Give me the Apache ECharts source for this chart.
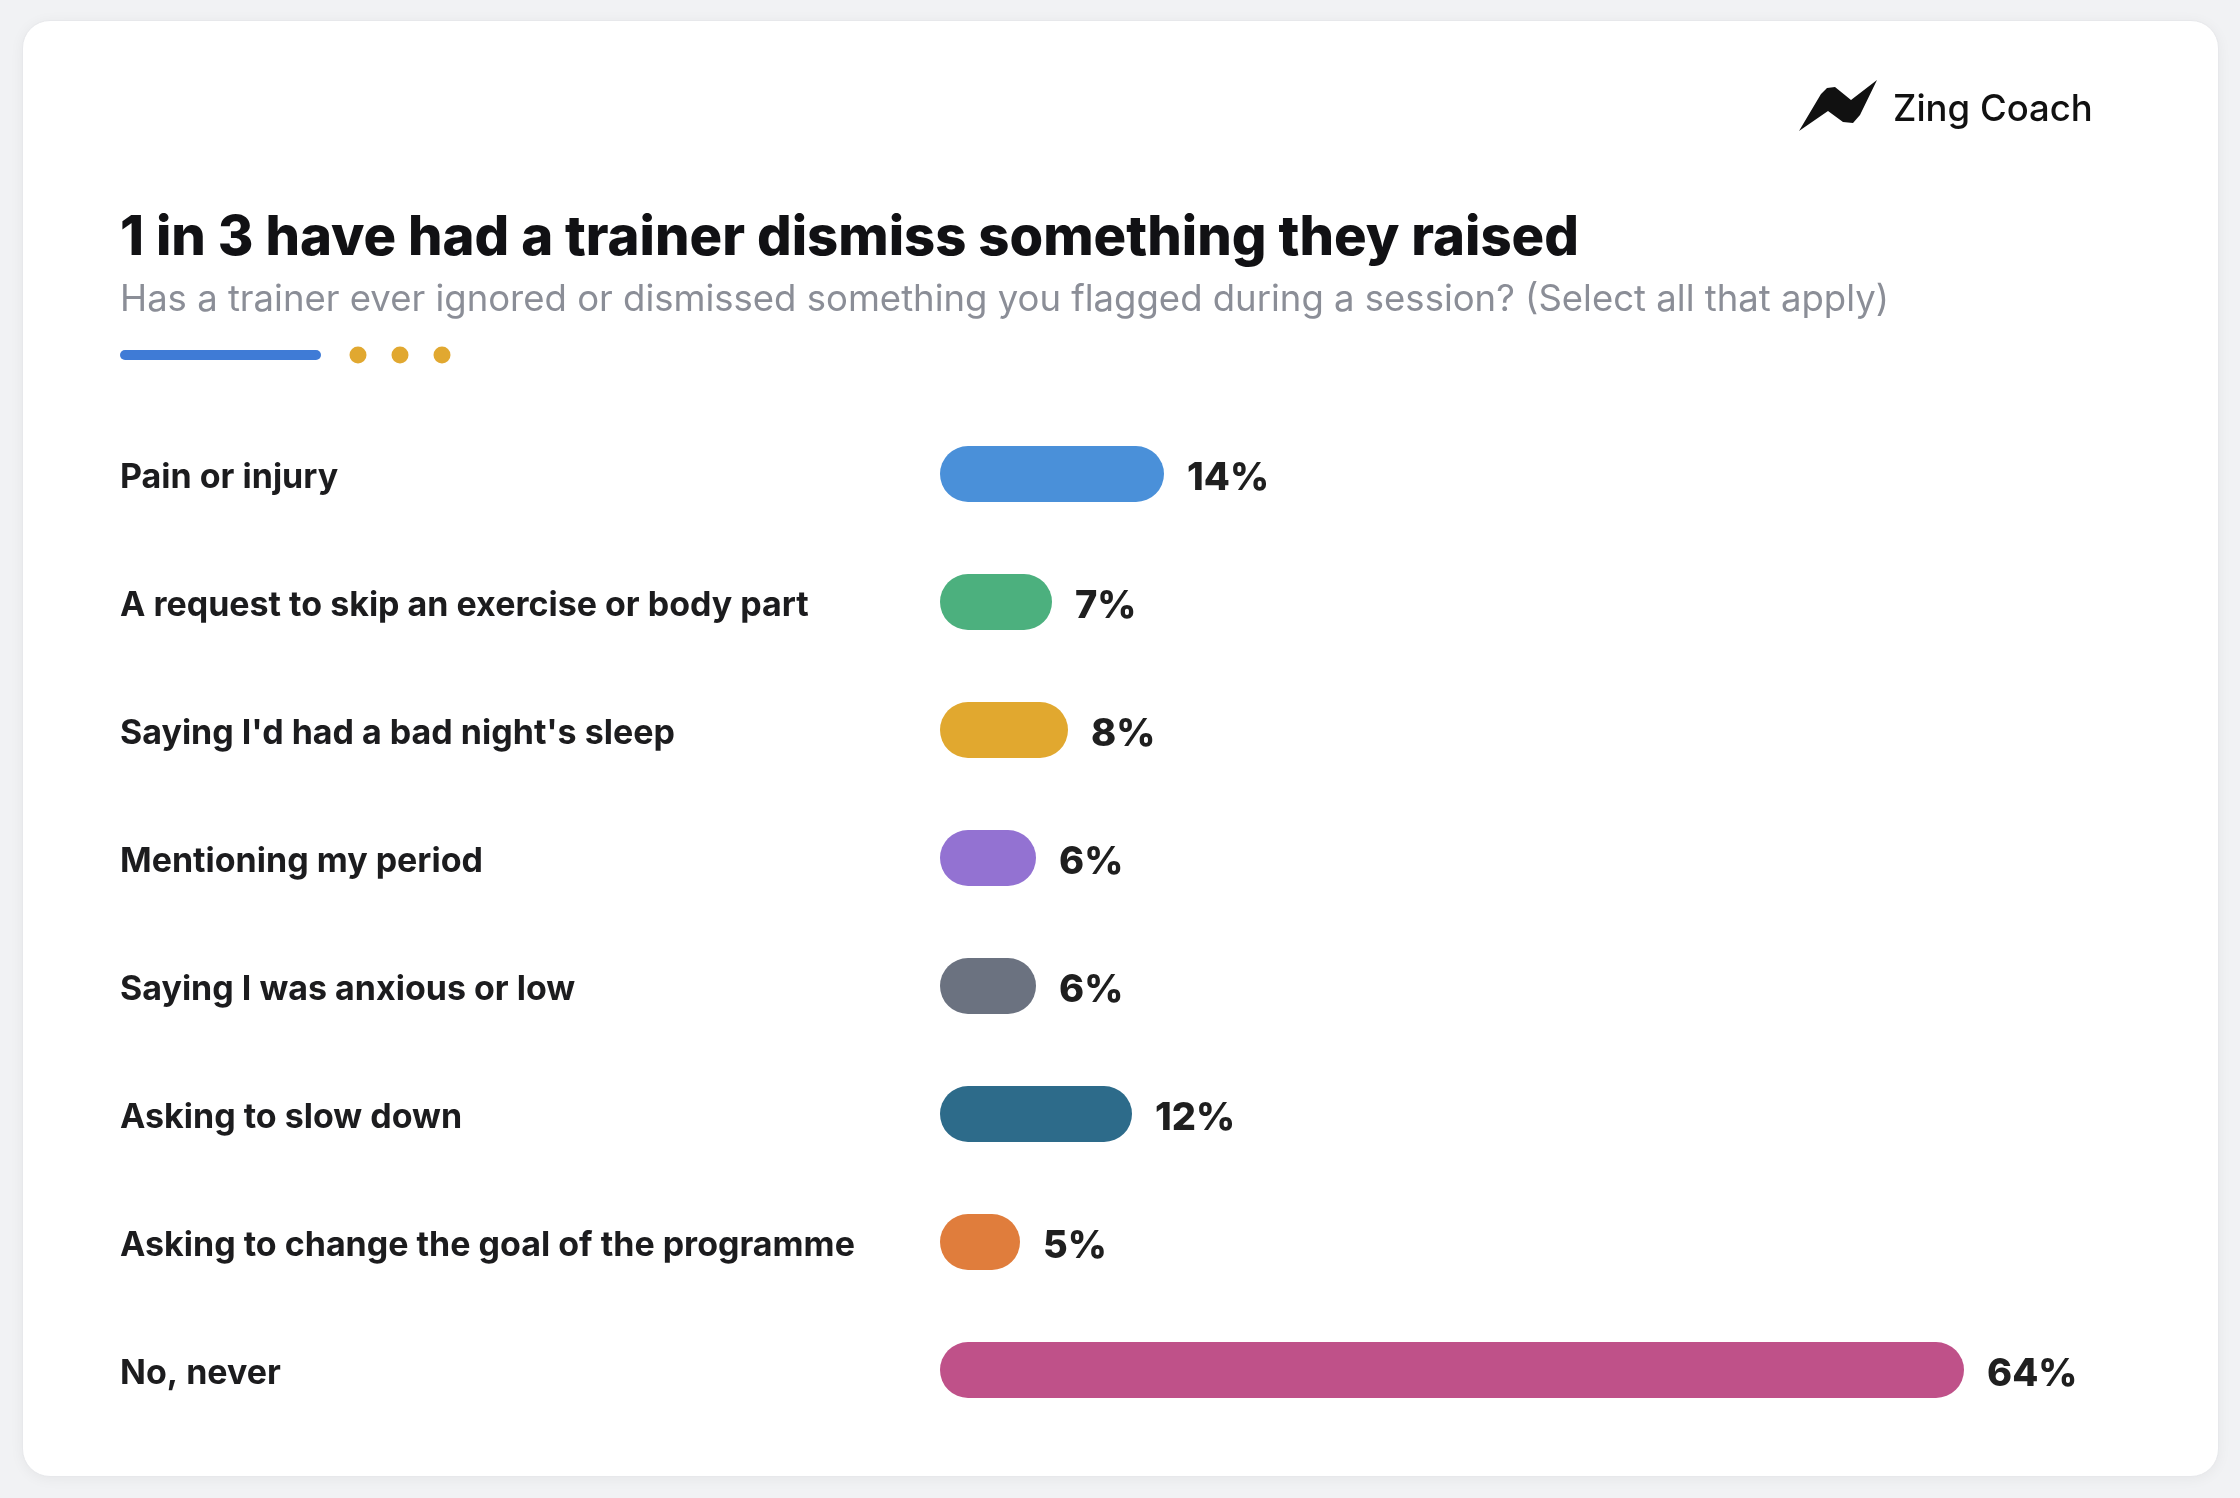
<!DOCTYPE html>
<html>
<head>
<meta charset="utf-8">
<script src="https://cdn.jsdelivr.net/npm/echarts@6/dist/echarts.min.js"></script>
<style>
    html, body { margin: 0; padding: 0; background: #f1f2f4; }
    .card {
        position: absolute; left: 22px; top: 20px; width: 2197px; height: 1457px;
        background: #fff; border-radius: 28px; border: 1px solid #e7e8eb;
        box-sizing: border-box; box-shadow: 0 2px 14px rgba(0,0,0,0.05);
    }
    #box { position: absolute; left: 0; top: 0; width: 2240px; height: 1498px; }
</style>
</head>
<body>
<div class="card"></div>
<div id="box"></div>
<script>
// data
var categories = [
    'Pain or injury',
    'A request to skip an exercise or body part',
    "Saying I'd had a bad night's sleep",
    'Mentioning my period',
    'Saying I was anxious or low',
    'Asking to slow down',
    'Asking to change the goal of the programme',
    'No, never'
];
var values = [14, 7, 8, 6, 6, 12, 5, 64];
var barColors = ['#4a90d9', '#4cb07e', '#e1a82f', '#9372d2', '#6b7280', '#2d6b8a', '#e07d3c', '#bf5189'];

var titleText = '1 in 3 have had a trainer dismiss something they raised';
var subText = 'Has a trainer ever ignored or dismissed something you flagged during a session? (Select all that apply)';

// size a font so the text spans a given width
var ctx = document.createElement('canvas').getContext('2d');
function fit(text, weight, family, target) {
    ctx.font = weight + ' 100px ' + family;
    return Math.round(100 * target / ctx.measureText(text).width * 10) / 10;
}

window.onload = function () {
    var charts = echarts.init(document.getElementById('box'));

    var titleSize = fit(titleText, 800, 'Inter', 1459);
    var subSize = fit(subText, 400, 'Inter', 1770);
    var catSize = fit(categories[6], 700, 'Inter', 734);
    var logoSize = fit('Zing Coach', 500, 'Inter', 200);

    var option = {
        backgroundColor: 'transparent',
        animation: false,
        grid: {left: 940, right: 100, top: 410, bottom: 64},
        xAxis: {type: 'value', min: 0, max: 75, show: false},
        yAxis: {
            type: 'category',
            data: categories,
            inverse: true,
            axisLine: {show: false},
            axisTick: {show: false},
            splitLine: {show: false},
            axisLabel: {
                align: 'left',
                margin: 820,
                formatter: function (v) { return '{a|' + v + '}'; },
                rich: {
                    a: {
                        padding: [7, 0, 0, 0],
                        color: '#1c1c1e',
                        fontFamily: 'Inter',
                        fontWeight: 700,
                        fontSize: catSize
                    }
                }
            }
        },
        series: [{
            type: 'bar',
            barWidth: 56,
            data: values.map(function (v, i) {
                return {value: v, itemStyle: {color: barColors[i]}};
            }),
            itemStyle: {borderRadius: 28},
            label: {
                show: true,
                position: 'right',
                distance: 23,
                offset: [0, 5],
                formatter: '{c}%',
                color: '#1f1f1f',
                fontFamily: 'Inter',
                fontWeight: 800,
                fontSize: 38
            }
        }],
        graphic: [
            {
                type: 'text', x: 120, y: 239,
                style: {text: titleText, fill: '#111114', font: '800 ' + titleSize + 'px Inter', verticalAlign: 'middle'}
            },
            {
                type: 'text', x: 120, y: 300,
                style: {text: subText, fill: '#8b8e97', font: '400 ' + subSize + 'px Inter', verticalAlign: 'middle'}
            },
            {
                type: 'rect', shape: {x: 120, y: 350, width: 201, height: 10, r: 5},
                style: {fill: '#3f7bd6'}
            },
            {type: 'circle', shape: {cx: 358, cy: 355, r: 8.5}, style: {fill: '#e1a830'}},
            {type: 'circle', shape: {cx: 400, cy: 355, r: 8.5}, style: {fill: '#e1a830'}},
            {type: 'circle', shape: {cx: 442, cy: 355, r: 8.5}, style: {fill: '#e1a830'}},
            {
                type: 'polygon',
                shape: {points: [[1799, 131], [1821, 94], [1827, 88], [1835, 87], [1851, 100], [1877, 80],
                    [1860, 115], [1853, 123], [1843, 122], [1828, 111]]},
                style: {fill: '#111'}
            },
            {
                type: 'text', x: 1893, y: 110,
                style: {text: 'Zing Coach', fill: '#111', font: '500 ' + logoSize + 'px Inter', verticalAlign: 'middle'}
            }
        ]
    };

    charts.setOption(option);
};
</script>
</body>
</html>
